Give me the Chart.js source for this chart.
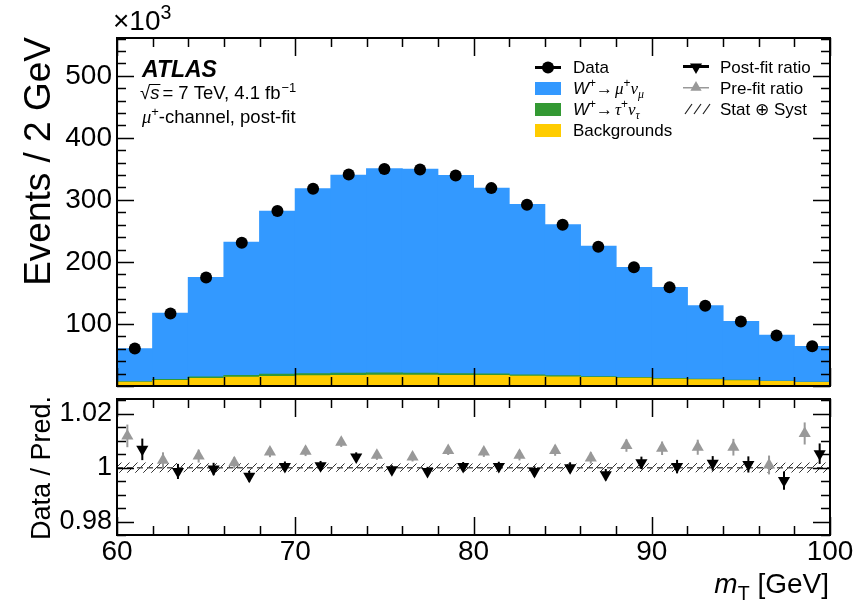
<!DOCTYPE html>
<html lang="en">
<head>
<meta charset="UTF-8">
<title>W+ to mu nu, mT post-fit</title>
<script src="https://cdn.jsdelivr.net/npm/chart.js"></script>
<style>
  body { margin: 0; background: #fff; }
  #wrap { position: relative; width: 854px; height: 604px; }
  #mainChart { position: absolute; left: 0; top: 0; }
  #ratioChart { position: absolute; left: 0; top: 392px; }
</style>
</head>
<body>
<div id="wrap">
  <canvas id="mainChart" width="854" height="392"></canvas>
  <canvas id="ratioChart" width="854" height="212"></canvas>
</div>
<script>
// bins of m_T (GeV), 2 GeV wide
const binCenters = [61, 63, 65, 67, 69, 71, 73, 75, 77, 79, 81, 83, 85, 87, 89, 91, 93, 95, 97, 99];
// events per bin, in units of 10^3
const dataEvents  = [60.5, 117, 175, 231, 282, 318, 341, 350, 349, 339.5, 319, 292, 260, 224.5, 191.5, 159, 129.5, 104, 81.5, 64];
const wMuNu       = [53.3, 106.7, 160.6, 214.7, 263.1, 297.9, 319.2, 329.5, 329, 319.7, 299.7, 274.7, 243.5, 210, 177.5, 146.9, 118.5, 94.8, 74.2, 57.5];
const wTauNu      = [0.8, 1.5, 2.5, 3, 3.3, 3.4, 3.4, 3.3, 3, 2.7, 2.4, 2, 1.8, 1.5, 1.2, 1, 0.8, 0.6, 0.5, 0.4];
const backgrounds = [6, 9, 12, 14, 15.5, 16.5, 17, 17.5, 17.5, 17, 16.8, 15.7, 14.7, 13.6, 12.5, 11, 10, 8.5, 7.2, 5.8];

// ratio panel
const preFitRatio  = [1.0118, 1.0028, 1.0043, 1.0018, 1.0058, 1.0061, 1.0094, 1.0046, 1.0040, 1.0064, 1.0058, 1.0046, 1.0064, 1.0036, 1.0082, 1.0072, 1.0076, 1.0076, 1.0010, 1.0127];
const preFitErr    = [0.0042, 0.0029, 0.0024, 0.0021, 0.0019, 0.0018, 0.0017, 0.0017, 0.0017, 0.0017, 0.0018, 0.0019, 0.0020, 0.0021, 0.0023, 0.0025, 0.0028, 0.0031, 0.0035, 0.0041];
const postFitRatio = [1.0068, 0.9986, 0.9995, 0.9968, 1.0004, 1.0007, 1.0040, 0.9992, 0.9986, 1.0004, 1.0004, 0.9986, 1.0000, 0.9974, 1.0018, 1.0004, 1.0016, 1.0012, 0.9952, 1.0052];
const postFitErr   = [0.0040, 0.0028, 0.0023, 0.0020, 0.0019, 0.0018, 0.0017, 0.0017, 0.0017, 0.0017, 0.0018, 0.0019, 0.0020, 0.0021, 0.0023, 0.0025, 0.0027, 0.0030, 0.0034, 0.0038];
const bandErr      = [0.0018, 0.0016, 0.0015, 0.0015, 0.0014, 0.0014, 0.0014, 0.0014, 0.0014, 0.0014, 0.0014, 0.0014, 0.0014, 0.0015, 0.0015, 0.0015, 0.0016, 0.0016, 0.0017, 0.0018];

const mainTicks  = [100, 200, 300, 400, 500];
const ratioTicks = [0.98, 1, 1.02];
const xTicks     = [60, 70, 80, 90, 100];

const SANS = '"Liberation Sans", Arial, "DejaVu Sans", sans-serif';
const SERIF = '"Liberation Serif", "DejaVu Serif", serif';
const BLUE = '#3399ff', GREEN = '#339933', YELLOW = '#ffcc00', GREY = '#999999';

// hatch for the Stat (+) Syst band
function makeHatch() {
  const c = document.createElement('canvas');
  c.width = 8; c.height = 8;
  const g = c.getContext('2d');
  g.strokeStyle = '#333';
  g.lineWidth = 1;
  g.beginPath();
  g.moveTo(0, 8); g.lineTo(8, 0);
  g.moveTo(-1, 1); g.lineTo(1, -1);
  g.moveTo(7, 9); g.lineTo(9, 7);
  g.stroke();
  return document.getElementById('ratioChart').getContext('2d').createPattern(c, 'repeat');
}

// text with italic / sup / sub pieces
function drawRich(ctx, x, y, parts, size) {
  parts.forEach(p => {
    let s = size, dy = 0;
    if (p.sup) { s = size * 0.7; dy = -size * 0.4; }
    if (p.sub) { s = size * 0.7; dy = size * 0.25; }
    ctx.font = (p.i ? 'italic ' : '') + (p.b ? 'bold ' : '') + s + 'px ' + (p.serif ? SERIF : SANS);
    ctx.fillText(p.t, x, y + dy);
    x += ctx.measureText(p.t).width + (p.gap || 0);
  });
  return x;
}

function steps(min, max, step) {
  const out = [];
  const n = Math.round((max - min) / step);
  for (let i = 0; i <= n; i++) out.push(+(min + i * step).toFixed(6));
  return out;
}

// frame with ROOT style inward ticks
function frameTicks(id, cfg) {
  return {
    id: id,
    afterDatasetsDraw(chart) {
      const { ctx, chartArea: a, scales: { x, y } } = chart;
      ctx.save();
      ctx.strokeStyle = '#000';
      ctx.lineWidth = 1.5;
      ctx.beginPath();
      steps(cfg.xMin, cfg.xMax, cfg.xMinor).forEach(v => {
        const px = Math.round(x.getPixelForValue(v)) + 0.5;
        const len = Math.abs(v / cfg.xMajor - Math.round(v / cfg.xMajor)) < 1e-6 ? cfg.xMajLen : cfg.xMinLen;
        ctx.moveTo(px, a.bottom); ctx.lineTo(px, a.bottom - len);
        ctx.moveTo(px, a.top); ctx.lineTo(px, a.top + len);
      });
      steps(cfg.yMin, cfg.yMax, cfg.yMinor).forEach(v => {
        if (v < y.min || v > y.max) return;
        const py = Math.round(y.getPixelForValue(v)) + 0.5;
        const len = Math.abs(v / cfg.yMajor - Math.round(v / cfg.yMajor)) < 1e-6 ? cfg.yMajLen : cfg.yMinLen;
        ctx.moveTo(a.left, py); ctx.lineTo(a.left + len, py);
        ctx.moveTo(a.right, py); ctx.lineTo(a.right - len, py);
      });
      ctx.stroke();
      ctx.lineWidth = 2;
      ctx.strokeRect(a.left, a.top, a.right - a.left, a.bottom - a.top);
      ctx.restore();
    }
  };
}

function triangle(ctx, x, y, r, down, color) {
  const h = down ? -1 : 1;
  ctx.fillStyle = color;
  ctx.beginPath();
  ctx.moveTo(x, y - h * r);
  ctx.lineTo(x + r * 0.866, y + h * r * 0.5);
  ctx.lineTo(x - r * 0.866, y + h * r * 0.5);
  ctx.closePath();
  ctx.fill();
}

const mainLabels = {
  id: 'mainLabels',
  afterDraw(chart) {
    const ctx = chart.ctx;
    ctx.save();
    ctx.fillStyle = '#000';
    ctx.textBaseline = 'alphabetic';
    // x10^3
    drawRich(ctx, 113, 30, [{ t: '\u00d710' }, { t: '3', sup: true }], 28);
    // y title
    ctx.save();
    ctx.translate(50, 37);
    ctx.rotate(-Math.PI / 2);
    ctx.textAlign = 'right';
    ctx.font = '37px ' + SANS;
    ctx.fillText('Events / 2 GeV', 0, 0);
    ctx.restore();
    // ATLAS block
    ctx.font = 'italic bold 23px ' + SANS;
    ctx.fillText('ATLAS', 142, 77);
    let x = drawRich(ctx, 140, 99, [{ t: '\u221a' }], 18.5);
    const sx = x;
    x = drawRich(ctx, x, 99, [{ t: 's', i: true }], 18.5);
    ctx.strokeStyle = '#000'; ctx.lineWidth = 1;
    ctx.beginPath(); ctx.moveTo(sx - 1, 84.5); ctx.lineTo(x + 1, 84.5); ctx.stroke();
    drawRich(ctx, x + 3, 99, [{ t: '= 7 TeV, 4.1 fb', gap: 1 }, { t: '\u22121', sup: true }], 18.5);
    drawRich(ctx, 142, 123, [{ t: '\u03bc', i: true, serif: true }, { t: '+', sup: true }, { t: '-channel, post-fit' }], 18.5);

    // legend, left column
    const lx = 535, tx = 573, fs = 17;
    ctx.fillStyle = '#000';
    ctx.fillRect(lx, 66, 26, 3);
    ctx.beginPath(); ctx.arc(lx + 13, 67.5, 6, 0, Math.PI * 2); ctx.fill();
    drawRich(ctx, tx, 73, [{ t: 'Data' }], fs);
    ctx.fillStyle = BLUE;   ctx.fillRect(lx, 82, 26, 13);
    ctx.fillStyle = GREEN;  ctx.fillRect(lx, 103, 26, 13);
    ctx.fillStyle = YELLOW; ctx.fillRect(lx, 124, 26, 13);
    ctx.fillStyle = '#000';
    drawRich(ctx, tx, 94, [{ t: 'W', i: true }, { t: '+', sup: true }, { t: '\u2192', gap: 2 },
      { t: '\u03bc', i: true, serif: true }, { t: '+', sup: true }, { t: '\u03bd', i: true, serif: true }, { t: '\u03bc', i: true, serif: true, sub: true }], fs);
    drawRich(ctx, tx, 115, [{ t: 'W', i: true }, { t: '+', sup: true }, { t: '\u2192', gap: 2 },
      { t: '\u03c4', i: true, serif: true }, { t: '+', sup: true }, { t: '\u03bd', i: true, serif: true }, { t: '\u03c4', i: true, serif: true, sub: true }], fs);
    drawRich(ctx, tx, 136, [{ t: 'Backgrounds' }], fs);

    // legend, right column
    const rx = 683, rtx = 720;
    ctx.fillStyle = '#000';
    ctx.fillRect(rx, 65, 26, 3);
    triangle(ctx, rx + 13, 67, 7, true, '#000');
    ctx.fillStyle = GREY;
    ctx.fillRect(rx, 87, 26, 1.5);
    triangle(ctx, rx + 13, 87.5, 6.5, false, GREY);
    ctx.strokeStyle = '#222'; ctx.lineWidth = 1.2;
    ctx.beginPath();
    for (let k = 0; k < 3; k++) { ctx.moveTo(rx + 2 + k * 9, 114); ctx.lineTo(rx + 9 + k * 9, 104); }
    ctx.stroke();
    ctx.fillStyle = '#000';
    drawRich(ctx, rtx, 73, [{ t: 'Post-fit ratio' }], fs);
    drawRich(ctx, rtx, 94, [{ t: 'Pre-fit ratio' }], fs);
    drawRich(ctx, rtx, 115, [{ t: 'Stat \u2295 Syst' }], fs);
    ctx.restore();
  }
};

const ratioLabels = {
  id: 'ratioLabels',
  afterDraw(chart) {
    const ctx = chart.ctx;
    ctx.save();
    ctx.fillStyle = '#000';
    ctx.save();
    ctx.translate(50, 4);
    ctx.rotate(-Math.PI / 2);
    ctx.textAlign = 'right';
    ctx.font = '27px ' + SANS;
    ctx.fillText('Data / Pred.', 0, 0);
    ctx.restore();
    // x title, right aligned to frame
    ctx.font = '28px ' + SANS;
    const w1 = ctx.measureText(' [GeV]').width;
    ctx.font = 'italic 28px ' + SANS;
    const wm = ctx.measureText('m').width;
    ctx.font = '19.6px ' + SANS;
    const wt = ctx.measureText('T').width;
    drawRich(ctx, 829 - w1 - wm - wt, 201, [{ t: 'm', i: true }, { t: 'T', sub: true }, { t: ' [GeV]' }], 28);
    ctx.restore();
  }
};

const errorBars = {
  id: 'errorBars',
  afterDatasetsDraw(chart) {
    const ctx = chart.ctx, y = chart.scales.y;
    ctx.save();
    chart.data.datasets.forEach((ds, i) => {
      if (!ds.errors) return;
      const meta = chart.getDatasetMeta(i);
      ctx.strokeStyle = ds.backgroundColor;
      ctx.lineWidth = 2;
      meta.data.forEach((pt, j) => {
        const v = ds.data[j].y, e = ds.errors[j];
        ctx.beginPath();
        ctx.moveTo(pt.x, y.getPixelForValue(v - e));
        ctx.lineTo(pt.x, y.getPixelForValue(v + e));
        ctx.stroke();
      });
    });
    ctx.restore();
  }
};

const pts = (xs, ys) => xs.map((x, i) => ({ x: x, y: ys[i] }));
const noPad = s => { s.paddingTop = 0; s.paddingBottom = 0; s.paddingLeft = 0; s.paddingRight = 0; };

new Chart(document.getElementById('mainChart'), {
  type: 'bar',
  data: {
    datasets: [
      { type: 'line', label: 'Data', data: pts(binCenters, dataEvents), stack: 'data', showLine: false,
        pointRadius: 6, pointBackgroundColor: '#000', pointBorderWidth: 0, order: 0 },
      { label: 'Backgrounds', data: pts(binCenters, backgrounds), backgroundColor: YELLOW, order: 1 },
      { label: 'W+ -> tau nu', data: pts(binCenters, wTauNu), backgroundColor: GREEN, order: 1 },
      { label: 'W+ -> mu nu', data: pts(binCenters, wMuNu), backgroundColor: BLUE, order: 1 }
    ]
  },
  options: {
    responsive: false,
    animation: false,
    events: [],
    layout: { padding: { left: 0, right: 24, top: 38, bottom: 3 } },
    datasets: { bar: { barPercentage: 1, categoryPercentage: 1, borderWidth: 0, inflateAmount: 0.5 } },
    plugins: { legend: { display: false }, tooltip: { enabled: false } },
    scales: {
      x: { type: 'linear', min: 60, max: 100, offset: false, stacked: true, display: false },
      y: {
        min: 0, max: 561, stacked: true,
        afterFit(s) { s.width = 117; noPad(s); },
        afterBuildTicks(s) { s.ticks = mainTicks.map(v => ({ value: v })); },
        grid: { display: false, drawTicks: false },
        border: { display: false },
        ticks: { color: '#000', padding: 5, font: { family: SANS, size: 28 } }
      }
    }
  },
  plugins: [frameTicks('frameMain', { xMin: 60, xMax: 100, xMinor: 2, xMajor: 10, xMajLen: 18, xMinLen: 9,
    yMin: 0, yMax: 560, yMinor: 20, yMajor: 100, yMajLen: 17, yMinLen: 9 }), mainLabels]
});

new Chart(document.getElementById('ratioChart'), {
  type: 'bar',
  data: {
    datasets: [
      { label: 'Stat + Syst', data: binCenters.map((x, i) => ({ x: x, y: [1 - bandErr[i], 1 + bandErr[i]] })),
        backgroundColor: makeHatch(), order: 3 },
      { type: 'line', label: 'one', data: [{ x: 60, y: 1 }, { x: 100, y: 1 }], borderColor: '#555',
        borderWidth: 1.5, borderDash: [6, 4], pointRadius: 0, order: 2 },
      { type: 'line', label: 'Pre-fit ratio', data: pts(binCenters.map(c => c - 0.42), preFitRatio), errors: preFitErr,
        showLine: false, pointStyle: 'triangle', pointRadius: 7, backgroundColor: GREY,
        pointBackgroundColor: GREY, pointBorderWidth: 0, order: 1 },
      { type: 'line', label: 'Post-fit ratio', data: pts(binCenters.map(c => c + 0.42), postFitRatio), errors: postFitErr,
        showLine: false, pointStyle: 'triangle', pointRotation: 180, pointRadius: 7, backgroundColor: '#000',
        pointBackgroundColor: '#000', pointBorderWidth: 0, order: 0 }
    ]
  },
  options: {
    responsive: false,
    animation: false,
    events: [],
    layout: { padding: { left: 0, right: 24, top: 4, bottom: 0 } },
    datasets: { bar: { barPercentage: 1, categoryPercentage: 1, borderWidth: 0 } },
    plugins: { legend: { display: false }, tooltip: { enabled: false } },
    scales: {
      x: {
        type: 'linear', min: 60, max: 100, offset: false,
        afterFit(s) { s.height = 69; noPad(s); },
        afterBuildTicks(s) { s.ticks = xTicks.map(v => ({ value: v })); },
        grid: { display: false, drawTicks: false },
        border: { display: false },
        ticks: { color: '#000', padding: 0, maxRotation: 0, font: { family: SANS, size: 28 } }
      },
      y: {
        min: 0.975, max: 1.0255,
        afterFit(s) { s.width = 117; noPad(s); },
        afterBuildTicks(s) { s.ticks = ratioTicks.map(v => ({ value: v })); },
        grid: { display: false, drawTicks: false },
        border: { display: false },
        ticks: { color: '#000', padding: 5, font: { family: SANS, size: 27 },
          callback: v => String(+v.toFixed(2)) }
      }
    }
  },
  plugins: [frameTicks('frameRatio', { xMin: 60, xMax: 100, xMinor: 2, xMajor: 10, xMajLen: 18, xMinLen: 9,
    yMin: 0.975, yMax: 1.025, yMinor: 0.005, yMajor: 0.02, yMajLen: 17, yMinLen: 9 }), errorBars, ratioLabels]
});
</script>
</body>
</html>
